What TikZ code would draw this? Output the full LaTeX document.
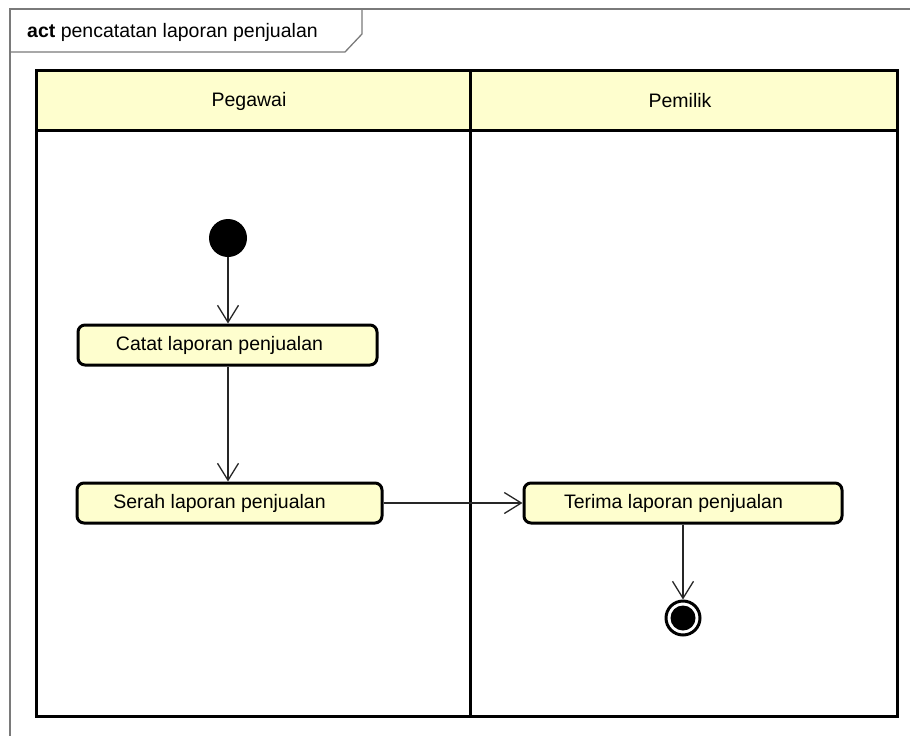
\documentclass[tikz,border=0pt]{standalone}
\usepackage{fontspec}
\setmainfont{Liberation Sans}
\usetikzlibrary{arrows.meta}
\definecolor{lanefill}{HTML}{FEFECE}
\definecolor{framegray}{HTML}{7A7A7A}

\tikzset{
  umlfont/.style={font=\fontsize{19.5}{23}\selectfont},
  action/.style={draw=black, line width=3pt, fill=lanefill, rounded corners=7pt,
    minimum height=40pt, inner sep=0pt, umlfont},
  lanehead/.style={inner sep=0pt, umlfont},
  flow/.style={draw=black!85, line width=1.3pt,
    -{Straight Barb[length=17pt,width=21pt,line width=1.3pt]}},
}

\begin{document}
\begin{tikzpicture}[x=1pt,y=-1pt]
\useasboundingbox (0,0) rectangle (910,736);

% outer frame and its tag
\draw[framegray, line width=1.6pt] (10,740) -- (10,9) -- (914,9);
\draw[framegray, line width=1.3pt] (10,52) -- (345,52) -- (362,34) -- (362,9);
\node[lanehead, anchor=west] (title) at (27,32) {\textbf{act} pencatatan laporan penjualan};

% swimlanes
\fill[lanefill] (36,70) rectangle (897,130);
\draw[line width=3pt] (36,70) rectangle (897,716);
\draw[line width=3pt] (36,130) -- (897,130);
\draw[line width=3pt] (470.5,70) -- (470.5,716);
\node[lanehead] (pegawai) at (249,101) {Pegawai};
\node[lanehead] (pemilik) at (680,101) {Pemilik};

% activities
\node[circle, fill=black, minimum size=38pt, inner sep=0pt] (start) at (228,238) {};
\node[action, minimum width=299pt] (catat) at (227.5,345) {Catat laporan penjualan\hspace*{16pt}};
\node[action, minimum width=305pt] (serah) at (229.5,503) {Serah laporan penjualan\hspace*{20pt}};
\node[action, minimum width=318pt] (terima) at (683,503) {Terima laporan penjualan\hspace*{19pt}};
\node[circle, draw=black, line width=3pt, fill=white, minimum size=34pt, inner sep=0pt,
  path picture={\fill[black] (path picture bounding box.center) circle (12.5pt);}] (final) at (683,618) {};

% flows
\draw[flow] (start) -- (start |- catat.north);
\draw[flow] (catat.south -| start) -- (start |- serah.north);
\draw[flow] (serah) -- (terima);
\draw[flow] (terima) -- (final);
\end{tikzpicture}
\end{document}
